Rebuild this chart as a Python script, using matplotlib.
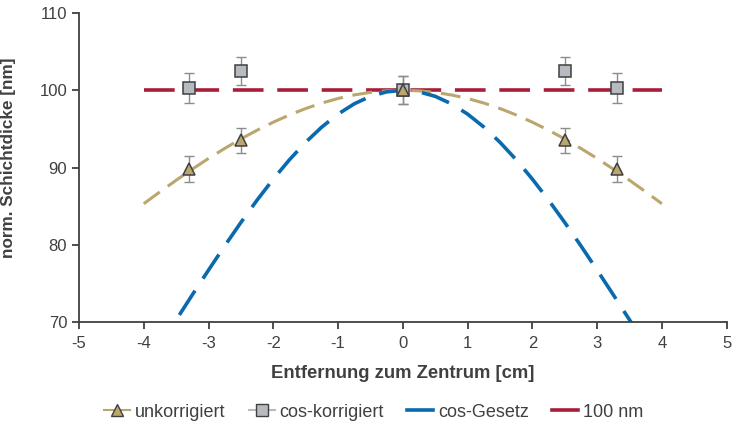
import matplotlib
matplotlib.use("Agg")
import matplotlib.pyplot as plt
from matplotlib.lines import Line2D

plt.rcParams['font.family'] = ['Liberation Sans', 'DejaVu Sans']

# measured points
x_pts = [-3.3, -2.5, 0.0, 2.5, 3.3]
unkorr = [89.8, 93.5, 100.0, 93.5, 89.8]
unkorr_err = [1.65, 1.6, 1.8, 1.6, 1.65]
coskorr = [100.3, 102.5, 100.0, 102.5, 100.3]
coskorr_err = [1.9, 1.8, 1.8, 1.8, 1.9]

# fitted curve (unkorrigiert trend)
x_fit = [-4.0, -3.75, -3.5, -3.25, -3.0, -2.75, -2.5, -2.25, -2.0, -1.75, -1.5, -1.25, -1.0,
         -0.75, -0.5, -0.25, 0.0, 0.25, 0.5, 0.75, 1.0, 1.25, 1.5, 1.75, 2.0, 2.25, 2.5,
         2.75, 3.0, 3.25, 3.5, 3.75, 4.0]
y_fit = [85.31, 86.85, 88.35, 89.79, 91.17, 92.47, 93.70, 94.83, 95.87, 96.81, 97.64, 98.35, 98.94,
         99.40, 99.73, 99.93, 100.0, 99.93, 99.73, 99.40, 98.94, 98.35, 97.64, 96.81, 95.87, 94.83, 93.70,
         92.47, 91.17, 89.79, 88.35, 86.85, 85.31]

# cos-Gesetz curve
x_cos = [-3.45, -3.25, -3.0, -2.75, -2.5, -2.25, -2.0, -1.75, -1.5, -1.25, -1.0, -0.75, -0.5, -0.25,
         0.0, 0.25, 0.5, 0.75, 1.0, 1.25, 1.5, 1.75, 2.0, 2.25, 2.5, 2.75, 3.0, 3.25, 3.5, 3.55]
y_cos = [70.9, 73.51, 76.71, 79.85, 82.88, 85.78, 88.50, 91.01, 93.27, 95.25, 96.92, 98.25, 99.22, 99.80,
         100.0, 99.80, 99.22, 98.25, 96.92, 95.25, 93.27, 91.01, 88.50, 85.78, 82.88, 79.85, 76.71, 73.51, 70.27, 69.62]

# 100 nm reference
x_ref = [-4.0, 4.0]
y_ref = [100.0, 100.0]

x_ticks = [-5, -4, -3, -2, -1, 0, 1, 2, 3, 4, 5]
y_ticks = [70, 80, 90, 100, 110]

c_tan = '#BBA66E'
c_gray = '#B7BBC0'
c_blue = '#0A6AAE'
c_red = '#A61E3A'
c_err = '#8C8C8C'
c_text = '#404040'

fig = plt.figure(figsize=(7.34, 4.23), dpi=100)
ax = fig.add_axes([0.1076, 0.239, 0.8824, 0.730])

ax.plot(x_ref, y_ref, color=c_red, lw=2.6, dashes=(8.5, 3.8), zorder=2)
ax.plot(x_fit, y_fit, color=c_tan, lw=2.2, dashes=(6.5, 3.2), zorder=2)
ax.plot(x_cos, y_cos, color=c_blue, lw=2.6, dashes=(8.0, 4.0), zorder=2, clip_on=True)

ax.errorbar(x_pts, coskorr, yerr=coskorr_err, fmt='none', ecolor=c_err, elinewidth=1.0,
            capsize=3.5, capthick=1.0, zorder=3)
ax.errorbar(x_pts, unkorr, yerr=unkorr_err, fmt='none', ecolor=c_err, elinewidth=1.0,
            capsize=3.5, capthick=1.0, zorder=3)
ax.plot(x_pts, coskorr, ls='none', marker='s', ms=8, mfc=c_gray, mec='#404040', mew=1.1, zorder=4)
ax.plot(x_pts, unkorr, ls='none', marker='^', ms=8.5, mfc=c_tan, mec='#404040', mew=1.1, zorder=5)

ax.set_xlim(-5, 5)
ax.set_ylim(70, 110)
ax.set_xticks(x_ticks)
ax.set_yticks(y_ticks)
ax.set_xticklabels([str(t) for t in x_ticks])
ax.set_yticklabels([str(t) for t in y_ticks])
for s in ['top', 'right']:
    ax.spines[s].set_visible(False)
for s in ['left', 'bottom']:
    ax.spines[s].set_color(c_text)
    ax.spines[s].set_linewidth(1.3)
ax.tick_params(axis='both', colors=c_text, labelsize=12, length=5, width=1.3, direction='out')
ax.tick_params(axis='x', pad=5)

ax.set_xlabel('Entfernung zum Zentrum [cm]', fontsize=13.3, fontweight='bold', color=c_text, labelpad=10)
ax.set_ylabel('norm. Schichtdicke [nm]', fontsize=12.3, fontweight='bold', color=c_text, labelpad=12)
ax.yaxis.set_label_coords(-0.098, 0.53)

handles = [
    Line2D([0], [0], color=c_tan, lw=1.5, marker='^', ms=8, mfc=c_tan, mec='#404040', mew=1.0),
    Line2D([0], [0], color=c_gray, lw=1.5, marker='s', ms=8, mfc=c_gray, mec='#404040', mew=1.0),
    Line2D([0], [0], color=c_blue, lw=2.6),
    Line2D([0], [0], color=c_red, lw=2.6),
]
labels = ['unkorrigiert', 'cos-korrigiert', 'cos-Gesetz', '100 nm']
fig.legend(handles, labels, loc='center', bbox_to_anchor=(0.509, 0.026), ncol=4, frameon=False,
           fontsize=13, handlelength=1.45, handletextpad=0.25, columnspacing=1.3, labelcolor=c_text,
           borderaxespad=0.0)

fig.savefig('out.png', dpi=100)
